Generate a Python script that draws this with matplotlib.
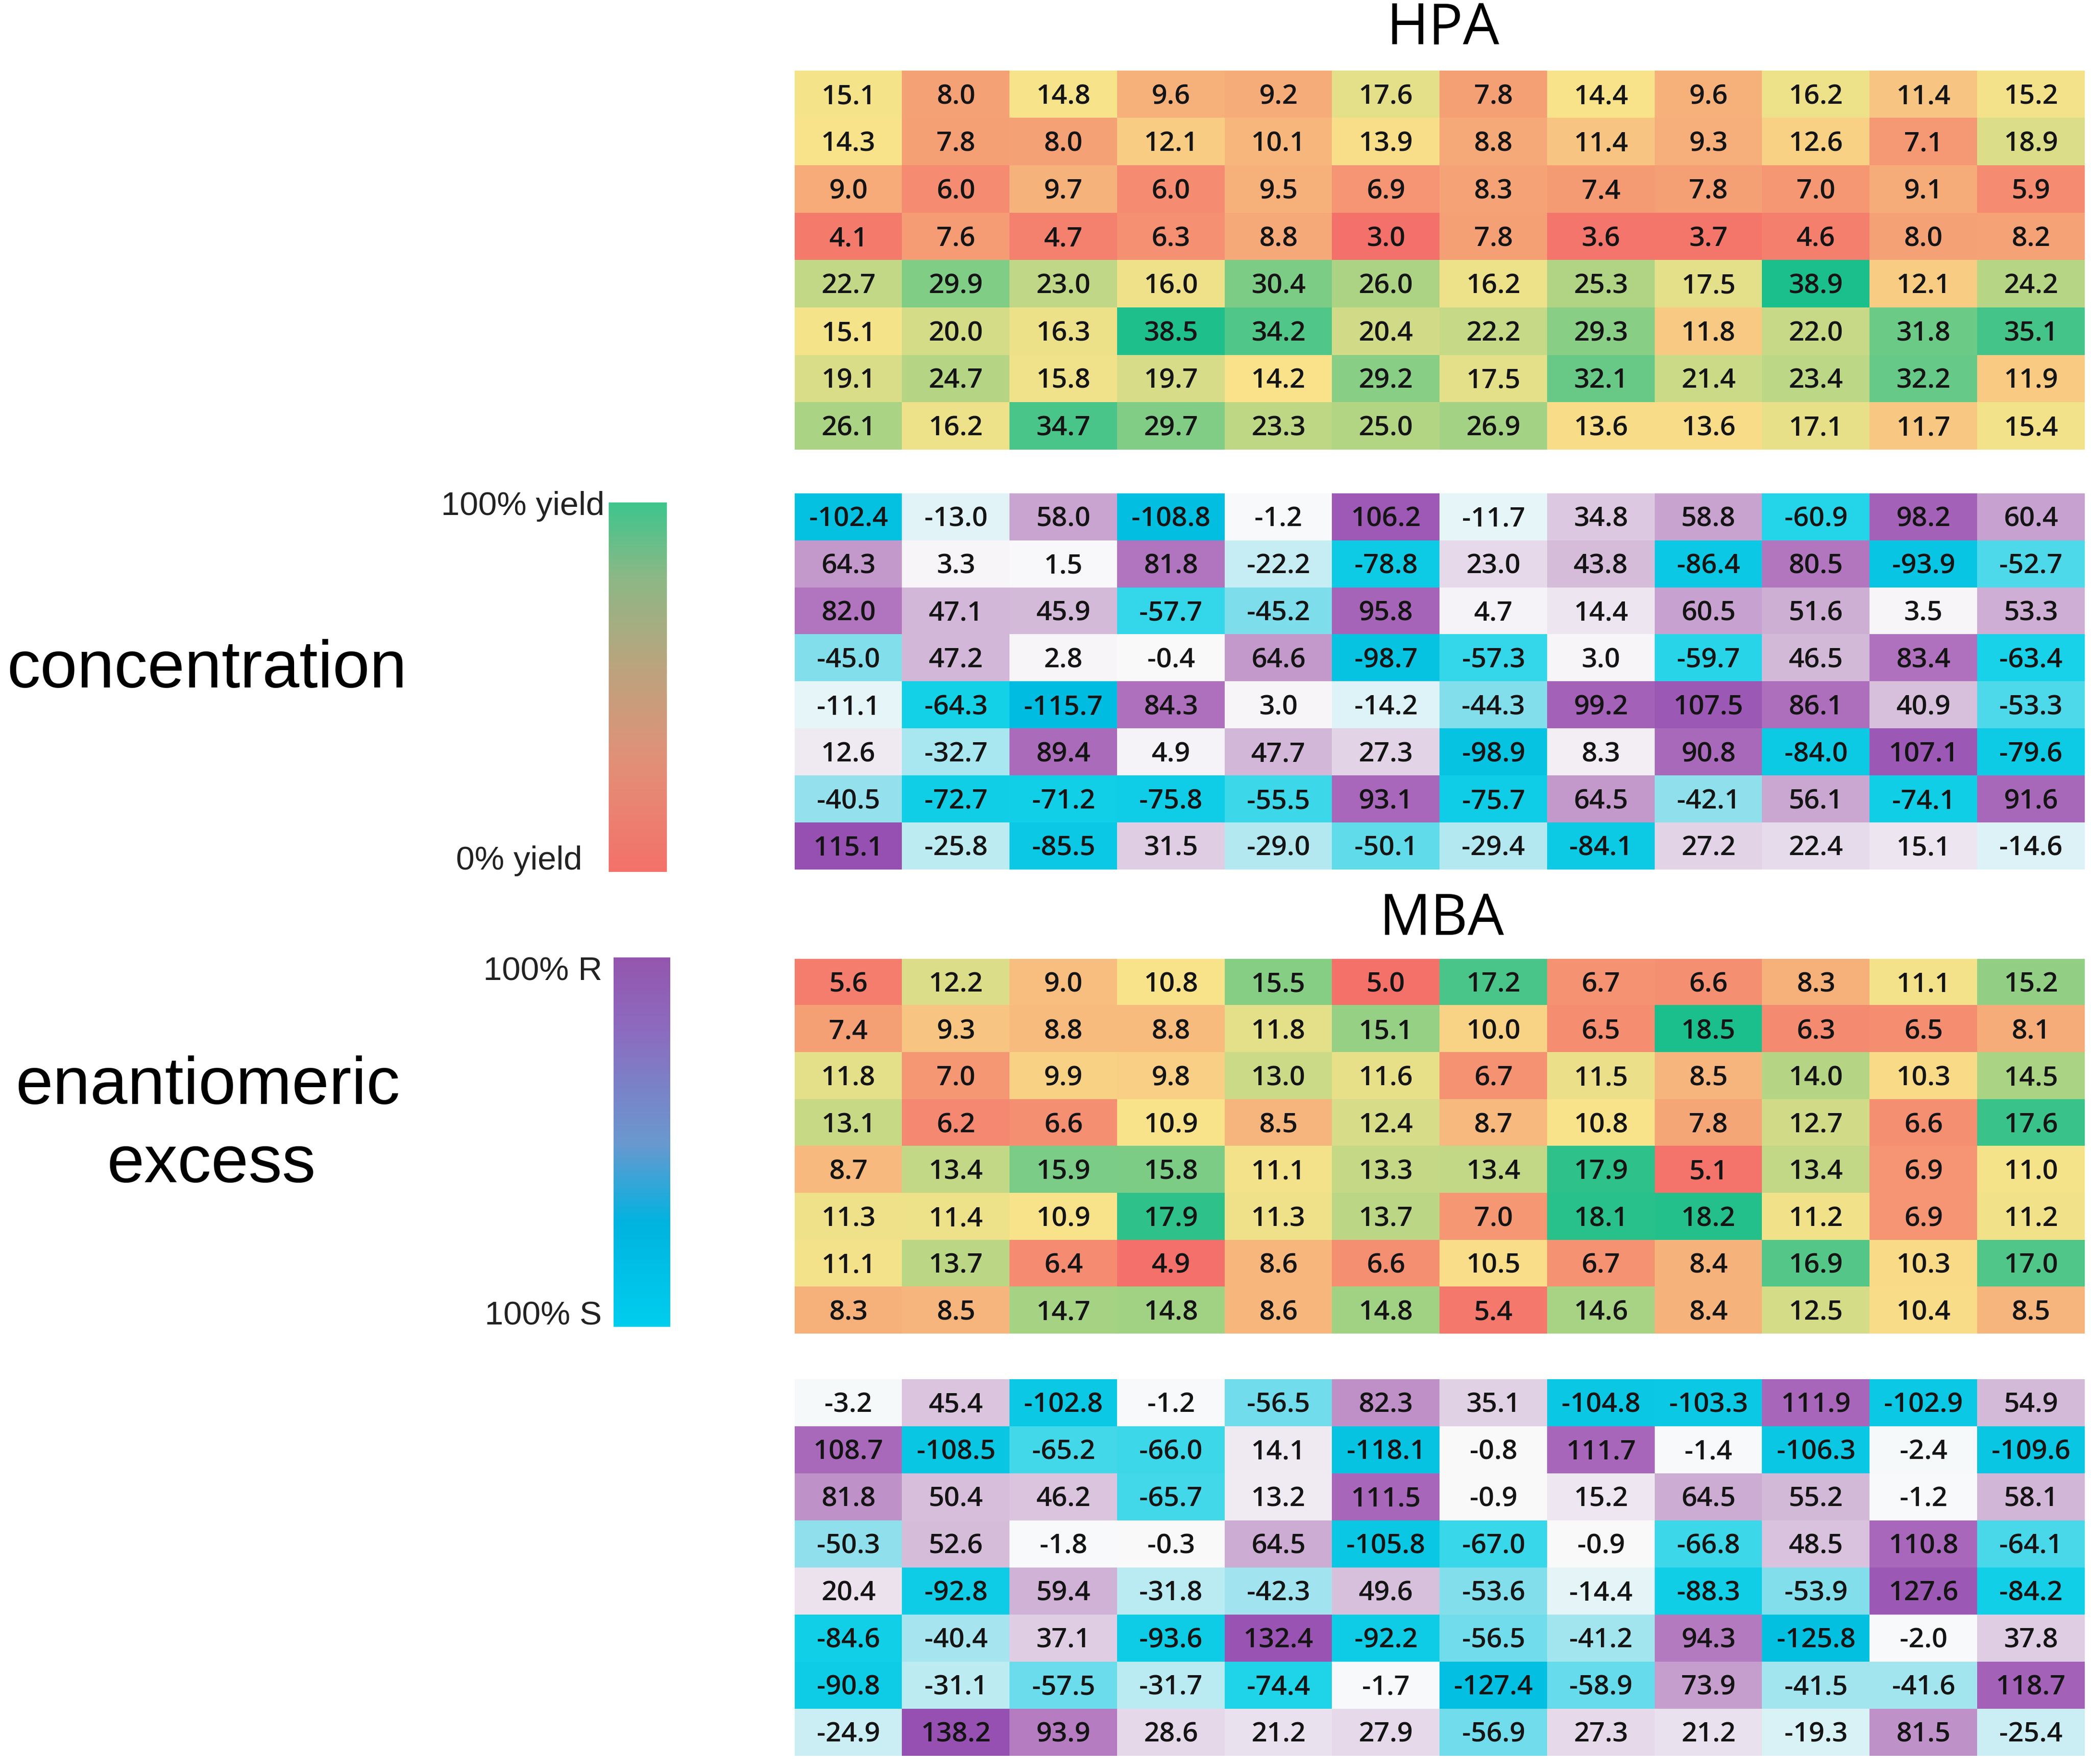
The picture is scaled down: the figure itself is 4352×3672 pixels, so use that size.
import numpy as np
import matplotlib
matplotlib.use("Agg")
import matplotlib.pyplot as plt
from matplotlib.colors import LinearSegmentedColormap, TwoSlopeNorm

# values (8 rows x 12 columns each)
hpa_yield = [
    [15.1, 8.0, 14.8, 9.6, 9.2, 17.6, 7.8, 14.4, 9.6, 16.2, 11.4, 15.2],
    [14.3, 7.8, 8.0, 12.1, 10.1, 13.9, 8.8, 11.4, 9.3, 12.6, 7.1, 18.9],
    [9.0, 6.0, 9.7, 6.0, 9.5, 6.9, 8.3, 7.4, 7.8, 7.0, 9.1, 5.9],
    [4.1, 7.6, 4.7, 6.3, 8.8, 3.0, 7.8, 3.6, 3.7, 4.6, 8.0, 8.2],
    [22.7, 29.9, 23.0, 16.0, 30.4, 26.0, 16.2, 25.3, 17.5, 38.9, 12.1, 24.2],
    [15.1, 20.0, 16.3, 38.5, 34.2, 20.4, 22.2, 29.3, 11.8, 22.0, 31.8, 35.1],
    [19.1, 24.7, 15.8, 19.7, 14.2, 29.2, 17.5, 32.1, 21.4, 23.4, 32.2, 11.9],
    [26.1, 16.2, 34.7, 29.7, 23.3, 25.0, 26.9, 13.6, 13.6, 17.1, 11.7, 15.4],
]
hpa_ee = [
    [-102.4, -13.0, 58.0, -108.8, -1.2, 106.2, -11.7, 34.8, 58.8, -60.9, 98.2, 60.4],
    [64.3, 3.3, 1.5, 81.8, -22.2, -78.8, 23.0, 43.8, -86.4, 80.5, -93.9, -52.7],
    [82.0, 47.1, 45.9, -57.7, -45.2, 95.8, 4.7, 14.4, 60.5, 51.6, 3.5, 53.3],
    [-45.0, 47.2, 2.8, -0.4, 64.6, -98.7, -57.3, 3.0, -59.7, 46.5, 83.4, -63.4],
    [-11.1, -64.3, -115.7, 84.3, 3.0, -14.2, -44.3, 99.2, 107.5, 86.1, 40.9, -53.3],
    [12.6, -32.7, 89.4, 4.9, 47.7, 27.3, -98.9, 8.3, 90.8, -84.0, 107.1, -79.6],
    [-40.5, -72.7, -71.2, -75.8, -55.5, 93.1, -75.7, 64.5, -42.1, 56.1, -74.1, 91.6],
    [115.1, -25.8, -85.5, 31.5, -29.0, -50.1, -29.4, -84.1, 27.2, 22.4, 15.1, -14.6],
]
mba_yield = [
    [5.6, 12.2, 9.0, 10.8, 15.5, 5.0, 17.2, 6.7, 6.6, 8.3, 11.1, 15.2],
    [7.4, 9.3, 8.8, 8.8, 11.8, 15.1, 10.0, 6.5, 18.5, 6.3, 6.5, 8.1],
    [11.8, 7.0, 9.9, 9.8, 13.0, 11.6, 6.7, 11.5, 8.5, 14.0, 10.3, 14.5],
    [13.1, 6.2, 6.6, 10.9, 8.5, 12.4, 8.7, 10.8, 7.8, 12.7, 6.6, 17.6],
    [8.7, 13.4, 15.9, 15.8, 11.1, 13.3, 13.4, 17.9, 5.1, 13.4, 6.9, 11.0],
    [11.3, 11.4, 10.9, 17.9, 11.3, 13.7, 7.0, 18.1, 18.2, 11.2, 6.9, 11.2],
    [11.1, 13.7, 6.4, 4.9, 8.6, 6.6, 10.5, 6.7, 8.4, 16.9, 10.3, 17.0],
    [8.3, 8.5, 14.7, 14.8, 8.6, 14.8, 5.4, 14.6, 8.4, 12.5, 10.4, 8.5],
]
mba_ee = [
    [-3.2, 45.4, -102.8, -1.2, -56.5, 82.3, 35.1, -104.8, -103.3, 111.9, -102.9, 54.9],
    [108.7, -108.5, -65.2, -66.0, 14.1, -118.1, -0.8, 111.7, -1.4, -106.3, -2.4, -109.6],
    [81.8, 50.4, 46.2, -65.7, 13.2, 111.5, -0.9, 15.2, 64.5, 55.2, -1.2, 58.1],
    [-50.3, 52.6, -1.8, -0.3, 64.5, -105.8, -67.0, -0.9, -66.8, 48.5, 110.8, -64.1],
    [20.4, -92.8, 59.4, -31.8, -42.3, 49.6, -53.6, -14.4, -88.3, -53.9, 127.6, -84.2],
    [-84.6, -40.4, 37.1, -93.6, 132.4, -92.2, -56.5, -41.2, 94.3, -125.8, -2.0, 37.8],
    [-90.8, -31.1, -57.5, -31.7, -74.4, -1.7, -127.4, -58.9, 73.9, -41.5, -41.6, 118.7],
    [-24.9, 138.2, 93.9, 28.6, 21.2, 27.9, -56.9, 27.3, 21.2, -19.3, 81.5, -25.4],
]

titles = ["HPA", "MBA"]
side_labels = ["concentration", "enantiomeric", "excess"]
yield_ticks = ["0% yield", "100% yield"]
ee_ticks = ["100% S", "100% R"]

# excel-like colour scales
yield_cmap = LinearSegmentedColormap.from_list(
    "ryg", ["#F4706A", "#F6A878", "#FAE48B", "#A8D384", "#1BBF8C"])
ee_cmap = LinearSegmentedColormap.from_list(
    "cwp", [(0, "#00BCE0"), (0.22, "#14D2E8"), (0.26, "#3ED8EA"), (0.31, "#8ADFEC"),
            (0.45, "#E6F5F8"), (0.5, "#FAFAFB"), (0.6, "#E6DAEA"), (0.7, "#D4BAD9"),
            (0.78, "#C49ACC"), (0.86, "#B072BE"), (1, "#9650B2")])
yield_bar = LinearSegmentedColormap.from_list(
    "ybar", [(0, "#F4716A"), (0.3, "#E29078"), (0.55, "#BCA47E"), (0.8, "#8CB886"), (1, "#3DC68D")])
ee_bar = LinearSegmentedColormap.from_list(
    "ebar", [(0, "#00CEEF"), (0.28, "#00B4E0"), (0.5, "#6A98CF"), (0.8, "#8C6CC0"), (1, "#9456AE")])

W, H = 4352, 3672
fig = plt.figure(figsize=(W / 100, H / 100), dpi=100)
fig.patch.set_facecolor("white")
sans = ["Liberation Sans", "Arial", "DejaVu Sans"]


def add_ax(x0, y0, x1, y1):
    return fig.add_axes([x0 / W, 1 - y1 / H, (x1 - x0) / W, (y1 - y0) / H])


def heat(ax, data, kind):
    arr = np.array(data)
    if kind == "yield":
        norm = TwoSlopeNorm(vcenter=np.median(arr), vmin=arr.min(), vmax=arr.max())
        cmap = yield_cmap
    else:
        m = np.abs(arr).max()
        norm = TwoSlopeNorm(vcenter=0, vmin=-m, vmax=m)
        cmap = ee_cmap
    ax.imshow(arr, cmap=cmap, norm=norm, aspect="auto", interpolation="nearest")
    for i in range(arr.shape[0]):
        for j in range(arr.shape[1]):
            ax.text(j, i + 0.06, f"{arr[i, j]:.1f}", ha="center", va="center",
                    fontsize=41, color="#141414", family="Open Sans", weight="semibold")
    ax.set_axis_off()


tables = [(hpa_yield, "yield", 147, 936), (hpa_ee, "ee", 1027, 1810),
          (mba_yield, "yield", 1996, 2776), (mba_ee, "ee", 2871, 3655)]
for data, kind, top, bot in tables:
    heat(add_ax(1654, top, 4339, bot), data, kind)

fig.text(3003 / W, 1 - 62 / H, titles[0], ha="center", va="center", fontsize=86, family="Open Sans")
fig.text(3000 / W, 1 - 1915 / H, titles[1], ha="center", va="center", fontsize=86, family="Open Sans")

t1 = fig.text(430 / W, 1 - 1395 / H, side_labels[0], ha="center", va="center", fontsize=108,
              family=sans)
t2 = fig.text(432 / W, 1 - 2262 / H, side_labels[1], ha="center", va="center", fontsize=108,
              family=sans)
t3 = fig.text(440 / W, 1 - 2425 / H, side_labels[2], ha="center", va="center", fontsize=108,
              family=sans)
# shrink the big side labels to the width they have in the reference
renderer = fig.canvas.get_renderer()
w1 = t1.get_window_extent(renderer).width
t1.set_fontsize(108 * 832 / w1)
w2 = t2.get_window_extent(renderer).width
t2.set_fontsize(108 * 800 / w2)
t3.set_fontsize(108 * 800 / w2)

# colour bars
grad = np.linspace(0, 1, 256).reshape(-1, 1)
cb1 = add_ax(1267, 1046, 1388, 1815)
cb1.imshow(grad, cmap=yield_bar, aspect="auto", origin="lower")
cb1.set_axis_off()
cb2 = add_ax(1277, 1993, 1395, 2762)
cb2.imshow(grad, cmap=ee_bar, aspect="auto", origin="lower")
cb2.set_axis_off()

lab = dict(ha="right", va="center", fontsize=50, family=sans, color="#222222")
fig.text(1258 / W, 1 - 1054 / H, yield_ticks[1], **lab)
fig.text(1212 / W, 1 - 1792 / H, yield_ticks[0], **lab)
fig.text(1253 / W, 1 - 2022 / H, ee_ticks[1], **lab)
fig.text(1253 / W, 1 - 2739 / H, ee_ticks[0], **lab)

fig.savefig("out.png", dpi=100, facecolor="white")
